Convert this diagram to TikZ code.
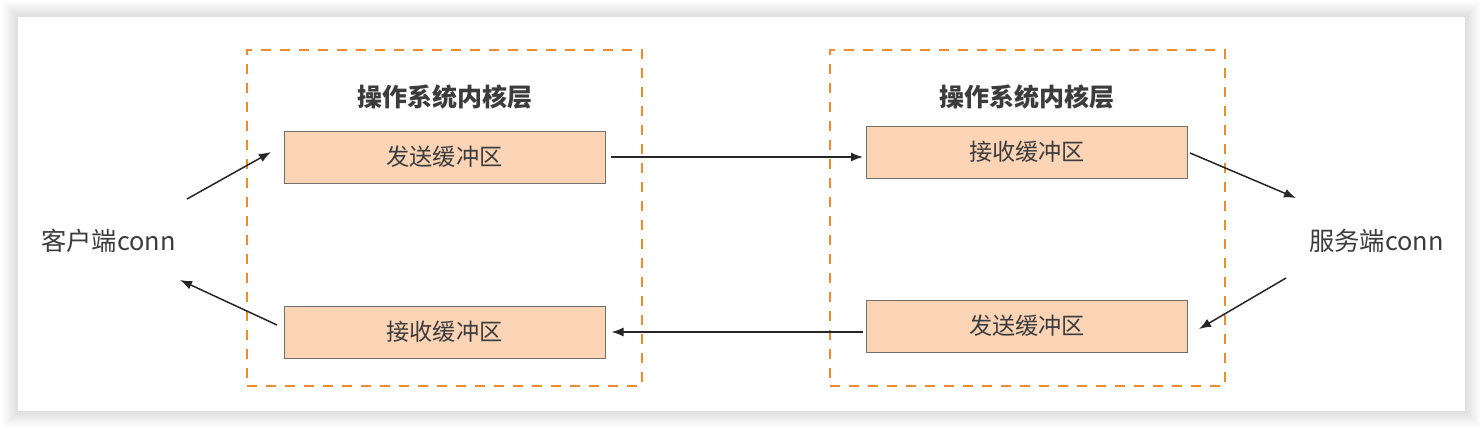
\documentclass[tikz,border=0pt]{standalone}
\usepackage{fontspec}
\setmainfont{Noto Sans CJK SC}
\usetikzlibrary{positioning,arrows.meta}
\definecolor{bufferfill}{HTML}{FBD4B6}
\definecolor{bufferline}{HTML}{707070}
\definecolor{kernelline}{HTML}{F08A2E}
\definecolor{textgray}{HTML}{3C3C3C}

\begin{document}
\begin{tikzpicture}[x=1pt,y=-1pt,
    buffer/.style={draw=bufferline, fill=bufferfill, line width=1pt, minimum width=321pt, minimum height=52pt, inner sep=0pt, text=textgray, font=\fontsize{23.2}{23.2}\selectfont},
    kernel/.style={draw=kernelline, line width=1.8pt, dash pattern=on 10pt off 9pt, minimum width=395pt, minimum height=336pt, inner sep=0pt},
    layer/.style={text=textgray, font=\fontsize{25}{25}\selectfont\bfseries},
    peer/.style={text=textgray, font=\fontsize{25.3}{25.3}\selectfont},
    flow/.style={draw=black!85, line width=1.5pt, -{Latex[length=12pt,width=9pt]}}]
\useasboundingbox (0,0) rectangle (1483,429);
% card with soft shadow
\fill[white] (0,0) rectangle (1483,429);
\foreach \s in {1,...,16}{\fill[black, opacity=0.009] (18-\s,17-\s) rectangle (1465+\s,411+\s);}
\fill[white] (18,17) rectangle (1465,411);
% kernel layers
\node[kernel] (lkernel) at (444.5,218) {};
\node[kernel] (rkernel) at (1027.5,218) {};
\node[layer] (ltitle) at (445,97) {操作系统内核层};
\node[layer] (rtitle) at (1027,97) {操作系统内核层};
% buffers
\node[buffer] (lsend) at (444.5,157) {发送缓冲区};
\node[buffer] (lrecv) at (444.5,332) {接收缓冲区};
\node[buffer] (rrecv) at (1027,152) {接收缓冲区};
\node[buffer] (rsend) at (1027,326) {发送缓冲区};
% both ends
\node[peer] (client) at (108.5,241) {客户端conn};
\node[peer] (server) at (1376.5,241) {服务端conn};
\coordinate (cout) at (187,199);
\coordinate (cin) at (180,280);
\coordinate (sin) at (1296,198);
\coordinate (sout) at (1286,278);
\coordinate (lsendin) at (271,152);
\coordinate (lrecvout) at (277,325);
\coordinate (rrecvout) at (1190,153);
\coordinate (rsendin) at (1199,329);
% connectors
\draw[flow] (cout) -- (lsendin);
\draw[flow] (lrecvout) -- (cin);
\draw[flow, shorten <=5pt, shorten >=3pt] (lsend.east) -- (lsend.east -| rrecv.west);
\draw[flow, shorten <=3pt, shorten >=6pt] (rsend.west |- lrecv.east) -- (lrecv.east);
\draw[flow] (rrecvout) -- (sin);
\draw[flow] (sout) -- (rsendin);
\end{tikzpicture}
\end{document}
